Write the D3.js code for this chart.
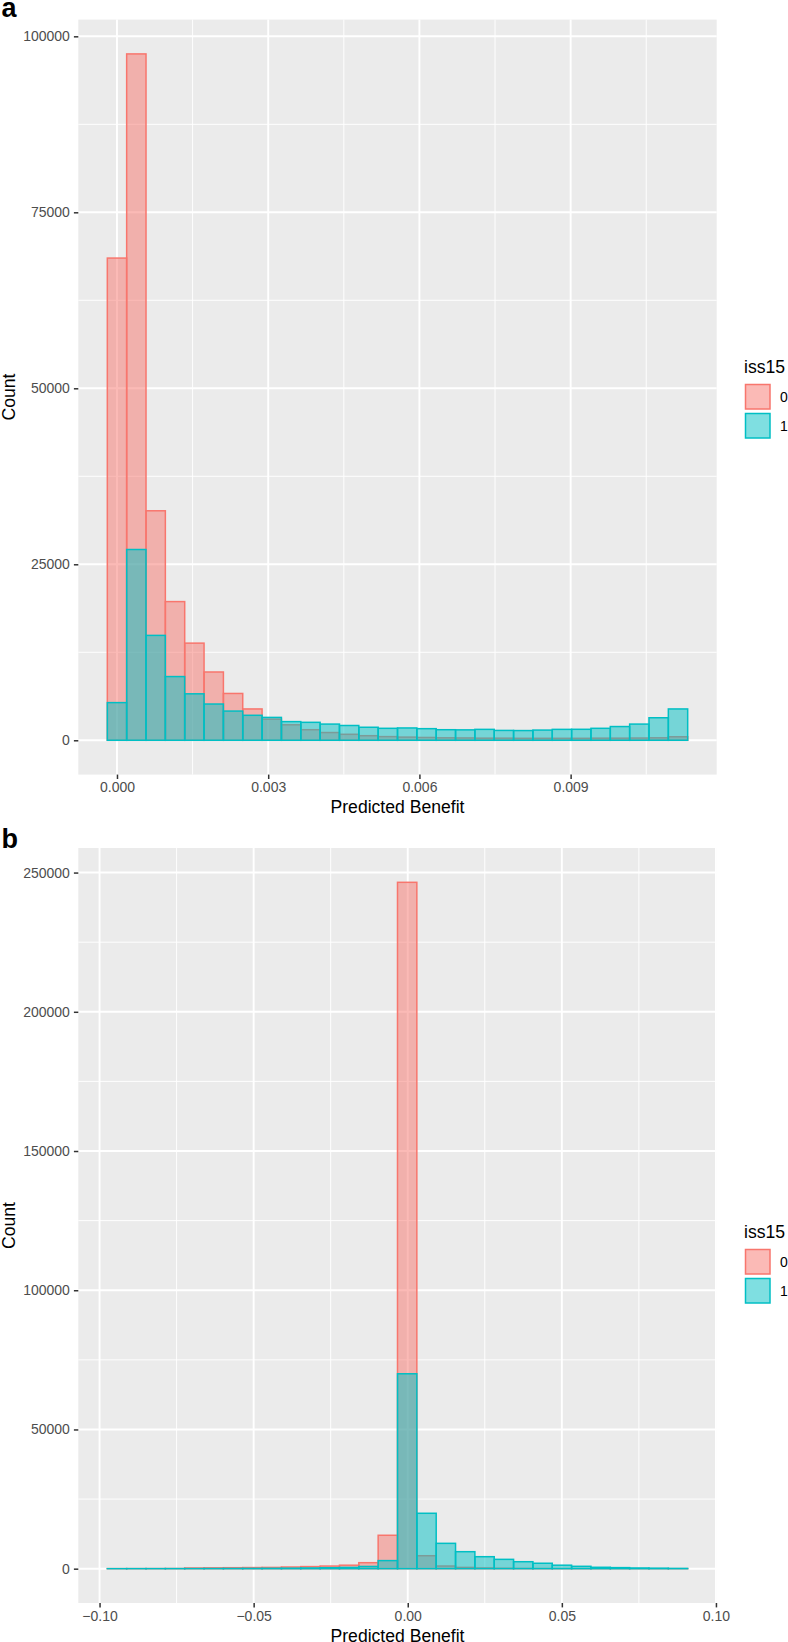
<!DOCTYPE html>
<html>
<head>
<meta charset="utf-8">
<script src="https://cdn.jsdelivr.net/npm/d3@7"></script>
<style>
  html, body { margin: 0; padding: 0; background: #ffffff; }
  svg { display: block; }
  text { font-family: "Liberation Sans", Arial, Helvetica, sans-serif; }
</style>
</head>
<body>
<svg id="chart" width="788" height="1642"></svg>
<script>
// ---------------- DATA ----------------
const groups = ["0", "1"];
const groupColors = ["#F8766D", "#00BFC4"];
const legendTitle = "iss15";
const xTitle = "Predicted Benefit";
const yTitle = "Count";

// Panel a: 30 histogram bins
const binStartA = -0.0001919;
const binWidthA = 0.0003838;
const countsA0 = [68500, 97500, 32600, 19700, 13800, 9700, 6650, 4450, 3000, 2200,
                  1500, 1100, 850, 650, 520, 450, 400, 350, 330, 300,
                  300, 280, 280, 280, 280, 300, 300, 320, 350, 500];
const countsA1 = [5350, 27100, 14900, 9050, 6600, 5150, 4150, 3550, 3250, 2650,
                  2550, 2300, 2100, 1850, 1700, 1750, 1650, 1500, 1480, 1550,
                  1400, 1380, 1450, 1550, 1560, 1700, 1950, 2300, 3200, 4450];
const xTicksA = [0, 0.003, 0.006, 0.009];
const xTickLabelsA = ["0.000", "0.003", "0.006", "0.009"];
const xMinorA = [0.0015, 0.0045, 0.0075, 0.0105];
const yTicksA = [0, 25000, 50000, 75000, 100000];
const yMinorA = [12500, 37500, 62500, 87500];

// Panel b: 30 histogram bins
const binStartB = -0.09748;
const binWidthB = 0.006277;
const countsB0 = [20, 30, 40, 60, 250, 300, 350, 400, 450, 600,
                  750, 950, 1250, 2150, 12000, 246500, 4650, 950, 450, 250,
                  150, 100, 60, 40, 30, 20, 10, 10, 5, 5];
const countsB1 = [10, 20, 20, 30, 40, 60, 80, 100, 130, 180,
                  250, 350, 450, 800, 2900, 70000, 19900, 9100, 6100, 4300,
                  3350, 2500, 1950, 1250, 850, 500, 380, 250, 180, 100];
const xTicksB = [-0.10, -0.05, 0, 0.05, 0.10];
const xTickLabelsB = ["\u22120.10", "\u22120.05", "0.00", "0.05", "0.10"];
const xMinorB = [-0.075, -0.025, 0.025, 0.075];
const yTicksB = [0, 50000, 100000, 150000, 200000, 250000];
const yMinorB = [25000, 75000, 125000, 175000, 225000];

// ---------------- DRAW ----------------
const svg = d3.select("#chart");

function panel(cfg) {
  const { top, bottom, left, right, binStart, binWidth, series,
          xTicks, xTickLabels, xMinor, yTicks, yMinor, label, labelY, legendY } = cfg;
  const nb = series[0].length;
  const x0 = binStart, x1 = binStart + nb * binWidth;
  const xs = (x1 - x0) * 0.05;
  const ymax = d3.max(series.flat());
  const x = d3.scaleLinear().domain([x0 - xs, x1 + xs]).range([left, right]);
  const y = d3.scaleLinear().domain([-ymax * 0.05, ymax * 1.05]).range([bottom, top]);

  const g = svg.append("g");
  g.append("rect").attr("x", left).attr("y", top)
    .attr("width", right - left).attr("height", bottom - top).attr("fill", "#EBEBEB");

  // minor grid
  g.selectAll(".ymin").data(yMinor).join("line")
    .attr("x1", left).attr("x2", right).attr("y1", d => y(d)).attr("y2", d => y(d))
    .attr("stroke", "#fff").attr("stroke-width", 0.95);
  g.selectAll(".xmin").data(xMinor).join("line")
    .attr("y1", top).attr("y2", bottom).attr("x1", d => x(d)).attr("x2", d => x(d))
    .attr("stroke", "#fff").attr("stroke-width", 0.95);
  // major grid
  g.selectAll(".ymaj").data(yTicks).join("line")
    .attr("x1", left).attr("x2", right).attr("y1", d => y(d)).attr("y2", d => y(d))
    .attr("stroke", "#fff").attr("stroke-width", 1.9);
  g.selectAll(".xmaj").data(xTicks).join("line")
    .attr("y1", top).attr("y2", bottom).attr("x1", d => x(d)).attr("x2", d => x(d))
    .attr("stroke", "#fff").attr("stroke-width", 1.9);

  // bars
  series.forEach((vals, si) => {
    g.append("g").selectAll("rect").data(vals).join("rect")
      .attr("x", (d, i) => x(binStart + i * binWidth))
      .attr("width", (d, i) => x(binStart + (i + 1) * binWidth) - x(binStart + i * binWidth))
      .attr("y", d => y(d))
      .attr("height", d => y(0) - y(d))
      .attr("fill", groupColors[si]).attr("fill-opacity", 0.5)
      .attr("stroke", groupColors[si]).attr("stroke-width", 1.5);
  });

  // y axis
  const ya = g.append("g").attr("transform", `translate(${left},0)`)
    .call(d3.axisLeft(y).tickValues(yTicks).tickSize(4.4).tickPadding(4).tickFormat(d3.format("d")));
  ya.select(".domain").remove();
  ya.selectAll(".tick line").attr("stroke", "#333333").attr("stroke-width", 1.5);
  ya.selectAll(".tick text").attr("fill", "#4D4D4D").style("font-size", "14px")
    .style("font-family", '"Liberation Sans", Arial, Helvetica, sans-serif');

  // x axis
  const xa = g.append("g").attr("transform", `translate(0,${bottom})`)
    .call(d3.axisBottom(x).tickValues(xTicks).tickSize(4.4).tickPadding(3.5)
      .tickFormat((d, i) => xTickLabels[i]));
  xa.select(".domain").remove();
  xa.selectAll(".tick line").attr("stroke", "#333333").attr("stroke-width", 1.5);
  xa.selectAll(".tick text").attr("fill", "#4D4D4D").style("font-size", "14px")
    .style("font-family", '"Liberation Sans", Arial, Helvetica, sans-serif');

  // axis titles
  g.append("text").attr("x", (left + right) / 2).attr("y", bottom + 38.5)
    .attr("text-anchor", "middle").style("font-size", "17.6px").attr("fill", "#000")
    .text(xTitle);
  g.append("text").attr("transform", `translate(14.5,${(top + bottom) / 2}) rotate(-90)`)
    .attr("text-anchor", "middle").style("font-size", "17.6px").attr("fill", "#000")
    .text(yTitle);

  // panel label
  g.append("text").attr("x", 1.5).attr("y", labelY)
    .style("font-size", "27px").style("font-weight", "bold").attr("fill", "#000")
    .text(label);

  // legend
  const lg = g.append("g").attr("transform", `translate(744,${legendY})`);
  lg.append("text").attr("x", 0).attr("y", 0).style("font-size", "17.6px").attr("fill", "#000")
    .text(legendTitle);
  groups.forEach((grp, i) => {
    const ky = 10 + i * 29;
    lg.append("rect").attr("x", 1.5).attr("y", ky + 1.5).attr("width", 24.5).attr("height", 24.5)
      .attr("fill", groupColors[i]).attr("fill-opacity", 0.5)
      .attr("stroke", groupColors[i]).attr("stroke-width", 1.5);
    lg.append("text").attr("x", 36).attr("y", ky + 14).attr("dy", "0.35em")
      .style("font-size", "14px").attr("fill", "#000").text(grp);
  });
}

panel({
  top: 19.6, bottom: 774.6, left: 78.3, right: 716.7,
  binStart: binStartA, binWidth: binWidthA, series: [countsA0, countsA1],
  xTicks: xTicksA, xTickLabels: xTickLabelsA, xMinor: xMinorA,
  yTicks: yTicksA, yMinor: yMinorA, label: "a", labelY: 16.7, legendY: 373
});
panel({
  top: 848, bottom: 1603, left: 78.3, right: 716.7,
  binStart: binStartB, binWidth: binWidthB, series: [countsB0, countsB1],
  xTicks: xTicksB, xTickLabels: xTickLabelsB, xMinor: xMinorB,
  yTicks: yTicksB, yMinor: yMinorB, label: "b", labelY: 848.3, legendY: 1238
});
</script>
</body>
</html>
